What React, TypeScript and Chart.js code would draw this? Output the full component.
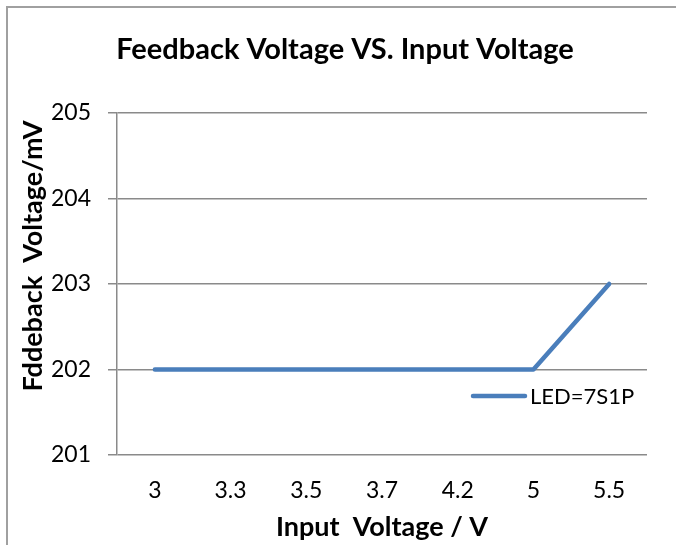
import React, { useEffect, useRef } from "react";
import { Chart, registerables } from "chart.js";

Chart.register(...registerables);

const categories = ["3", "3.3", "3.5", "3.7", "4.2", "5", "5.5"];
const feedbackMv = [202, 202, 202, 202, 202, 202, 203];
const seriesLabel = "LED=7S1P";
const chartTitle = "Feedback Voltage VS. Input Voltage";
const xTitle = "Input  Voltage / V";
const yTitle = "Fddeback  Voltage/mV";
const yMin = 201;
const yMax = 205;
const yStep = 1;

const FONT = "Lato, 'Open Sans', 'DejaVu Sans', sans-serif";
const GRID = "#8a8a8a";
const LINE = "#4A7EBB";

const decorPlugin = {
  id: "decor",
  beforeDraw(chart: any) {
    const ctx = chart.ctx;
    ctx.save();
    ctx.fillStyle = "#ffffff";
    ctx.fillRect(0, 0, chart.width, chart.height);
    ctx.strokeStyle = "#a0a0a0";
    ctx.lineWidth = 2;
    ctx.strokeRect(7, 7, chart.width + 20, chart.height + 20);
    ctx.restore();
  },
  afterDraw(chart: any) {
    const ctx = chart.ctx;
    ctx.save();
    // chart title
    ctx.fillStyle = "#000";
    ctx.font = `bold 29px ${FONT}`;
    ctx.textAlign = "center";
    ctx.textBaseline = "alphabetic";
    ctx.fillText(chartTitle, 345, 59);
    // y axis title
    ctx.save();
    ctx.translate(42, 256);
    ctx.rotate(-Math.PI / 2);
    ctx.font = `bold 27px ${FONT}`;
    ctx.textAlign = "center";
    ctx.fillText(yTitle, 0, 0);
    ctx.restore();
    // legend
    const ds = chart.data.datasets[0];
    ctx.strokeStyle = ds.borderColor;
    ctx.lineWidth = ds.borderWidth;
    ctx.lineCap = "round";
    ctx.beginPath();
    ctx.moveTo(473, 396);
    ctx.lineTo(525, 396);
    ctx.stroke();
    ctx.font = `22px ${FONT}`;
    ctx.textAlign = "left";
    ctx.textBaseline = "middle";
    ctx.fillStyle = "#000";
    ctx.fillText(ds.label, 530, 397);
    ctx.restore();
  },
};

export default function App() {
  const ref = useRef<HTMLCanvasElement | null>(null);

  useEffect(() => {
    document.body.style.margin = "0";
    const canvas = ref.current;
    if (!canvas) return;
    const chart = new Chart(canvas, {
      type: "line",
      data: {
        labels: categories,
        datasets: [
          {
            label: seriesLabel,
            data: feedbackMv,
            borderColor: LINE,
            backgroundColor: LINE,
            borderWidth: 4.5,
            borderCapStyle: "round",
            borderJoinStyle: "round",
            pointRadius: 0,
            tension: 0,
          },
        ],
      },
      options: {
        responsive: false,
        animation: false,
        layout: { padding: { left: 0, top: 113, right: 29, bottom: 0 } },
        plugins: {
          legend: { display: false },
          title: { display: false },
          tooltip: { enabled: false },
        },
        scales: {
          x: {
            type: "category",
            offset: true,
            grid: { display: false },
            border: { display: false },
            ticks: {
              color: "#000",
              font: { family: FONT, size: 23 },
              padding: 14,
            },
            title: {
              display: true,
              text: xTitle,
              color: "#000",
              font: { family: FONT, size: 27, weight: "bold" },
              padding: { top: 0, bottom: 2 },
            },
            afterFit(scale: any) {
              scale.height = 90;
            },
          },
          y: {
            min: yMin,
            max: yMax,
            grid: {
              color: GRID,
              lineWidth: 1.5,
              drawTicks: true,
              tickLength: 9,
            },
            border: { display: true, color: GRID, width: 1.5 },
            ticks: {
              stepSize: yStep,
              color: "#000",
              font: { family: FONT, size: 23 },
              padding: 17,
            },
            afterFit(scale: any) {
              scale.width = 117;
            },
          },
        },
      },
      plugins: [decorPlugin],
    });
    return () => chart.destroy();
  }, []);

  return (
    <div style={{ width: 676, height: 545 }}>
      <canvas ref={ref} width={676} height={545} style={{ display: "block" }} />
    </div>
  );
}
